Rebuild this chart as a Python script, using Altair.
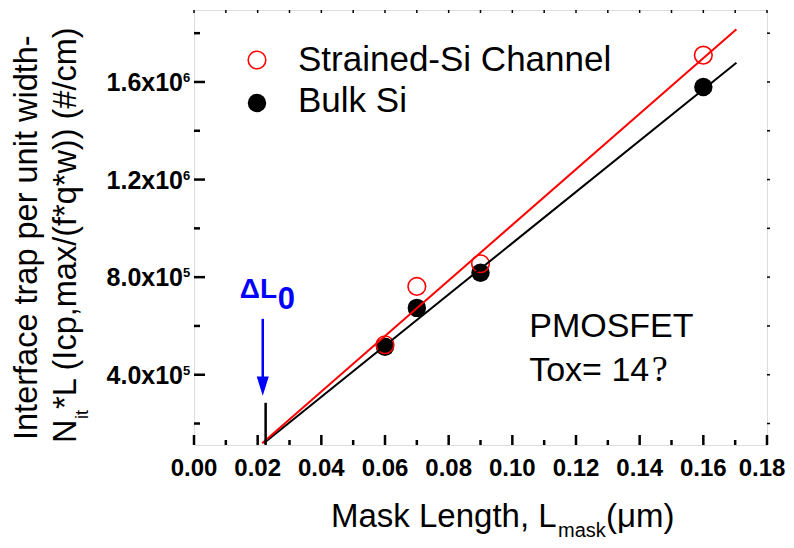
import altair as alt
import pandas as pd

FONT = "Liberation Sans"
W, H = 573, 435

# ---- data ----
mask_len = [0.06, 0.07, 0.09, 0.16]
strained_nit = [5.23e5, 7.62e5, 8.55e5, 1.71e6]
bulk_nit = [5.15e5, 6.74e5, 8.18e5, 1.579e6]

fit_strained_x = [0.0214, 0.1704]
fit_strained_y = [1.19e5, 1.816e6]
fit_bulk_x = [0.0219, 0.1704]
fit_bulk_y = [1.19e5, 1.679e6]

x_major = [0.00, 0.02, 0.04, 0.06, 0.08, 0.10, 0.12, 0.14, 0.16, 0.18]
x_labels = ["0.00", "0.02", "0.04", "0.06", "0.08", "0.10", "0.12", "0.14", "0.16", "0.18"]
x_label_shift = [0, 0, 0, 0, 0, 0, 0, 0, 0, -5]
x_minor = [0.01, 0.03, 0.05, 0.07, 0.09, 0.11, 0.13, 0.15, 0.17]
y_major = [4e5, 8e5, 1.2e6, 1.6e6]
y_label_base = ["4.0x10", "8.0x10", "1.2x10", "1.6x10"]
y_label_exp = ["5", "5", "6", "6"]
y_minor = [2e5, 6e5, 1.0e6, 1.4e6, 1.8e6]

x_domain = [0.0, 0.18]
y_domain = [1.12e5, 1.895e6]

# delta L0 annotation
dl_x = [0.0216]
dl_arrow_top = [6.29e5]
dl_arrow_bottom = [3.7e5]
dl_head = [3.53e5]
marker_x = [0.0225]
marker_top = [2.85e5]

xs = alt.Scale(domain=x_domain, nice=False, zero=False)
ys = alt.Scale(domain=y_domain, nice=False, zero=False)


def X(field="x"):
    return alt.X(f"{field}:Q", scale=xs, axis=None)


def Y(field="y"):
    return alt.Y(f"{field}:Q", scale=ys, axis=None)


# ---- ticks ----
bottom_major = alt.Chart(pd.DataFrame({"x": x_major})).mark_rule(
    color="black", strokeWidth=2.5).encode(x=X(), y=alt.value(H), y2=alt.value(H - 10))
bottom_minor = alt.Chart(pd.DataFrame({"x": x_minor})).mark_rule(
    color="black", strokeWidth=2.5).encode(x=X(), y=alt.value(H), y2=alt.value(H - 5))
top_ticks = alt.Chart(pd.DataFrame({"x": x_major + x_minor})).mark_rule(
    color="black", strokeWidth=1.5).encode(x=X(), y=alt.value(0), y2=alt.value(3))
left_major = alt.Chart(pd.DataFrame({"y": y_major})).mark_rule(
    color="black", strokeWidth=2.5).encode(y=Y(), x=alt.value(0), x2=alt.value(11))
left_minor = alt.Chart(pd.DataFrame({"y": y_minor})).mark_rule(
    color="black", strokeWidth=2.5).encode(y=Y(), x=alt.value(0), x2=alt.value(6))
right_ticks = alt.Chart(pd.DataFrame({"y": y_major + y_minor})).mark_rule(
    color="black", strokeWidth=1.5).encode(y=Y(), x=alt.value(W), x2=alt.value(W + 3))

# ---- tick labels ----
x_lab_df = pd.DataFrame({"x": x_major, "t": x_labels, "dx": x_label_shift})
x_lab = alt.layer(*[
    alt.Chart(x_lab_df[x_lab_df.dx == d]).mark_text(
        font=FONT, fontSize=24, fontWeight="bold", align="center", baseline="alphabetic", dx=d
    ).encode(x=X(), y=alt.value(466), text="t:N")
    for d in sorted(set(x_label_shift))
])

y_lab = alt.Chart(pd.DataFrame({"y": y_major, "t": y_label_base})).mark_text(
    font=FONT, fontSize=25, fontWeight="bold", align="right", baseline="middle", dy=1
).encode(y=Y(), x=alt.value(-11), text="t:N")
y_exp = alt.Chart(pd.DataFrame({"y": y_major, "t": y_label_exp})).mark_text(
    font=FONT, fontSize=13, fontWeight="bold", align="left", baseline="alphabetic", dy=0
).encode(y=Y(), x=alt.value(-11), text="t:N")

# ---- series ----
pts = pd.DataFrame({"x": mask_len, "s": strained_nit, "b": bulk_nit})
bulk_pts = alt.Chart(pts).mark_point(
    shape="circle", filled=True, color="black", size=340, opacity=1
).encode(x=X(), y=Y("b"))
strained_pts = alt.Chart(pts).mark_point(
    shape="circle", filled=False, color="#ff0000", size=310, strokeWidth=1.6, opacity=1
).encode(x=X(), y=Y("s"))

bulk_fit = alt.Chart(pd.DataFrame({"x": fit_bulk_x, "y": fit_bulk_y})).mark_line(
    color="black", strokeWidth=2).encode(x=X(), y=Y())
strained_fit = alt.Chart(pd.DataFrame({"x": fit_strained_x, "y": fit_strained_y})).mark_line(
    color="#ff0000", strokeWidth=2).encode(x=X(), y=Y())

# ---- delta L0 annotation ----
marker = alt.Chart(pd.DataFrame({"x": marker_x, "y": [y_domain[0]], "y2": marker_top})).mark_rule(
    color="black", strokeWidth=2.5).encode(x=X(), y=Y(), y2="y2:Q")
arrow_line = alt.Chart(pd.DataFrame({"x": dl_x, "y": dl_arrow_top, "y2": dl_arrow_bottom})).mark_rule(
    color="#0000ff", strokeWidth=2.5).encode(x=X(), y=Y(), y2="y2:Q")
arrow_head = alt.Chart(pd.DataFrame({"x": dl_x, "y": dl_head})).mark_point(
    shape="M-0.63,-1L0.63,-1L0,1Z", filled=True, color="#0000ff", size=370, opacity=1
).encode(x=X(), y=Y())

dl_text = alt.Chart(pd.DataFrame({"x": [0.0144], "y": [7.15e5], "t": ["\u0394L"]})).mark_text(
    font=FONT, fontSize=28, fontWeight="bold", color="#0000ff", align="left", baseline="alphabetic"
).encode(x=X(), y=Y(), text="t:N")
dl_sub = alt.Chart(pd.DataFrame({"x": [0.0263], "y": [6.68e5], "t": ["0"]})).mark_text(
    font=FONT, fontSize=31, fontWeight="bold", color="#0000ff", align="left", baseline="alphabetic"
).encode(x=X(), y=Y(), text="t:N")

dev_text = alt.Chart(pd.DataFrame({"x": [0.1053, 0.1053], "y": [5.56e5, 3.75e5],
                                   "t": ["PMOSFET", "Tox= 14"]})).mark_text(
    font=FONT, fontSize=34, color="black", align="left", baseline="alphabetic"
).encode(x=X(), y=Y(), text="t:N")
dev_q = alt.Chart(pd.DataFrame({"x": [0.1438], "y": [3.75e5], "t": ["?"]})).mark_text(
    font="Liberation Serif", fontSize=36, color="black", align="left", baseline="alphabetic"
).encode(x=X(), y=Y(), text="t:N")

# ---- legend ----
leg_df = pd.DataFrame({"k": [0]})
leg_red = alt.Chart(leg_df).mark_point(shape="circle", filled=False, color="#ff0000",
                                       size=310, strokeWidth=1.6, opacity=1).encode(
    x=alt.value(63), y=alt.value(50))
leg_black = alt.Chart(leg_df).mark_point(shape="circle", filled=True, color="black",
                                         size=340, opacity=1).encode(
    x=alt.value(63), y=alt.value(93))
leg_t1 = alt.Chart(leg_df).mark_text(font=FONT, fontSize=35, align="left", baseline="alphabetic",
                                     text="Strained-Si Channel").encode(x=alt.value(104), y=alt.value(61))
leg_t2 = alt.Chart(leg_df).mark_text(font=FONT, fontSize=35, align="left", baseline="alphabetic",
                                     text="Bulk Si").encode(x=alt.value(104), y=alt.value(102))

# ---- axis titles ----
xt1 = alt.Chart(leg_df).mark_text(font=FONT, fontSize=33, align="left", baseline="alphabetic",
                                  text="Mask Length, L").encode(x=alt.value(137), y=alt.value(517))
xt2 = alt.Chart(leg_df).mark_text(font=FONT, fontSize=20, align="left", baseline="alphabetic",
                                  text="mask").encode(x=alt.value(364), y=alt.value(527))
xt3 = alt.Chart(leg_df).mark_text(font=FONT, fontSize=33, align="left", baseline="alphabetic",
                                  text="(\u03bcm)").encode(x=alt.value(412), y=alt.value(517))

yt1 = alt.Chart(leg_df).mark_text(font=FONT, fontSize=32.5, angle=270, align="left",
                                  baseline="alphabetic",
                                  text="Interface trap per unit width-").encode(
    x=alt.value(-157), y=alt.value(430))
yt2 = alt.Chart(leg_df).mark_text(font=FONT, fontSize=32.5, angle=270, align="left",
                                  baseline="alphabetic", text="N").encode(
    x=alt.value(-118), y=alt.value(433))
yt3 = alt.Chart(leg_df).mark_text(font=FONT, fontSize=18, angle=270, align="left",
                                  baseline="alphabetic", text="it").encode(
    x=alt.value(-106), y=alt.value(409))
yt4 = alt.Chart(leg_df).mark_text(font=FONT, fontSize=32.5, angle=270, align="left",
                                  baseline="alphabetic",
                                  text="*L (Icp,max/(f*q*w)) (#/cm)").encode(
    x=alt.value(-118), y=alt.value(399))

chart = alt.layer(
    bottom_major, bottom_minor, top_ticks, left_major, left_minor, right_ticks,
    x_lab, y_lab, y_exp,
    bulk_pts, strained_pts, bulk_fit, strained_fit,
    marker, arrow_line, arrow_head, dl_text, dl_sub, dev_text, dev_q,
    leg_red, leg_black, leg_t1, leg_t2,
    xt1, xt2, xt3, yt1, yt2, yt3, yt4,
).properties(
    width=W, height=H,
    autosize=alt.AutoSizeParams(type="none"),
    padding={"left": 186, "top": 2, "right": 19, "bottom": 95},
).configure_view(
    stroke="black", strokeWidth=3
).configure(background="white")

chart.save("out.html", embed_options={"renderer": "svg", "actions": False})
